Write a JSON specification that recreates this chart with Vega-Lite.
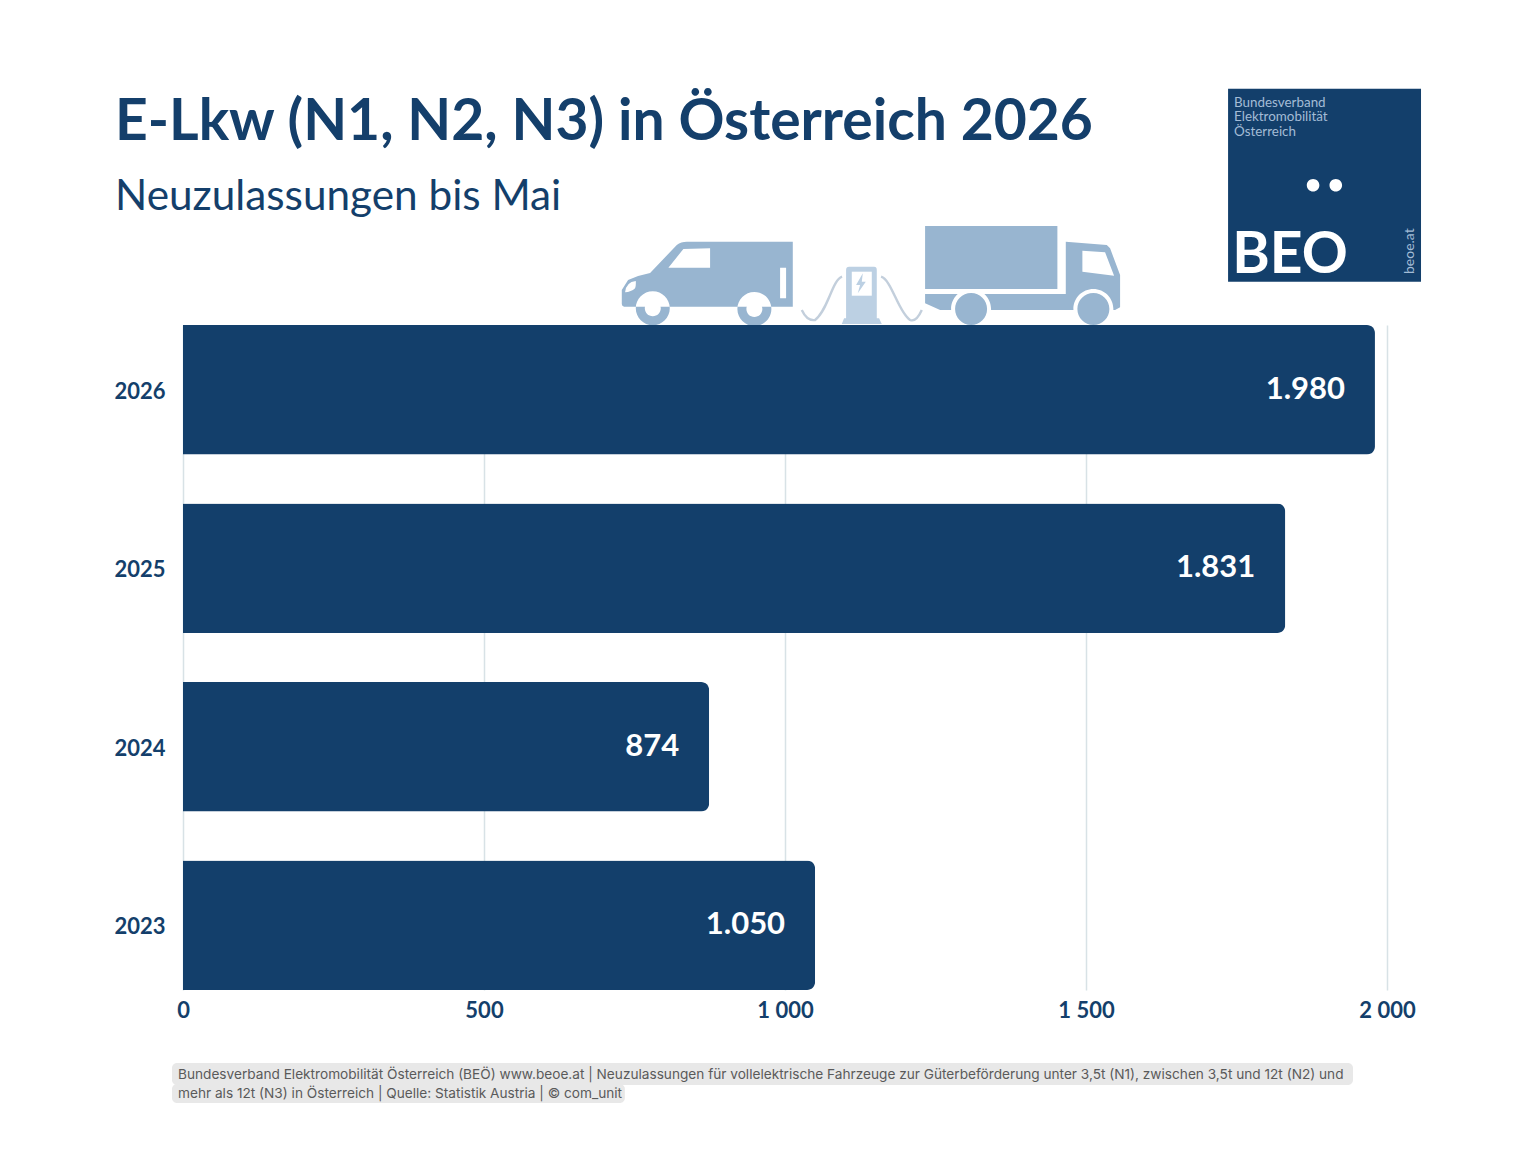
{
  "$schema": "https://vega.github.io/schema/vega-lite/v6.json",
  "width": 1204,
  "height": 665,
  "autosize": "none",
  "padding": {"left": 183, "top": 325, "right": 149, "bottom": 162},
  "background": "white",
  "data": {
    "values": [
      {"jahr": "2026", "neuzulassungen": 1980, "label": "1.980"},
      {"jahr": "2025", "neuzulassungen": 1831, "label": "1.831"},
      {"jahr": "2024", "neuzulassungen": 874, "label": "874"},
      {"jahr": "2023", "neuzulassungen": 1050, "label": "1.050"}
    ]
  },
  "title": {
    "text": "E-Lkw (N1, N2, N3) in Österreich 2026",
    "subtitle": "Neuzulassungen bis Mai",
    "anchor": "start",
    "frame": "group",
    "dx": -68,
    "offset": -131,
    "font": "Lato",
    "fontSize": 57,
    "fontWeight": "bold",
    "color": "#143f6b",
    "subtitleFont": "Lato",
    "subtitleFontSize": 42.3,
    "subtitleColor": "#143f6b",
    "subtitlePadding": 25
  },
  "layer": [
    {
      "layer": [
        {
          "data": {"values": [{"part": "logo"}]},
          "mark": {"type": "rect", "color": "#133f6b"},
          "encoding": {
            "x": {"datum": 1736, "type": "quantitative", "scale": {"domain": [0, 2000], "nice": false}},
            "x2": {"datum": 2056.5},
            "y": {"datum": -236.3, "type": "quantitative", "axis": null, "scale": {"domain": [0, 665], "nice": false, "zero": false, "reverse": true}},
            "y2": {"datum": -43.3}
          }
        },
        {
          "data": {"values": [{"text": "Bundesverband\nElektromobilität\nÖsterreich"}]},
          "mark": {"type": "text", "align": "left", "baseline": "alphabetic", "lineBreak": "\n", "lineHeight": 14.5, "font": "Lato", "fontSize": 13.4, "color": "#a3bcd6"},
          "encoding": {
            "x": {"datum": 1746, "type": "quantitative"},
            "y": {"datum": -218.3, "type": "quantitative", "axis": null, "scale": {"domain": [0, 665], "nice": false, "zero": false, "reverse": true}},
            "text": {"field": "text"}
          }
        },
        {
          "data": {"values": [{"text": "BEO"}]},
          "mark": {"type": "text", "align": "left", "baseline": "alphabetic", "font": "Lato", "fontSize": 57, "fontWeight": "bold", "color": "white"},
          "encoding": {
            "x": {"datum": 1743, "type": "quantitative"},
            "y": {"datum": -52.3, "type": "quantitative", "axis": null, "scale": {"domain": [0, 665], "nice": false, "zero": false, "reverse": true}},
            "text": {"field": "text"}
          }
        },
        {
          "data": {"values": [{"text": "beoe.at"}]},
          "mark": {"type": "text", "align": "left", "baseline": "alphabetic", "angle": 270, "font": "Lato", "fontSize": 14, "color": "#a3bcd6"},
          "encoding": {
            "x": {"datum": 2045, "type": "quantitative"},
            "y": {"datum": -51, "type": "quantitative", "axis": null, "scale": {"domain": [0, 665], "nice": false, "zero": false, "reverse": true}},
            "text": {"field": "text"}
          }
        },
        {
          "data": {"values": [{"part": "icons"}]},
          "encoding": {
            "x": {"datum": 1143, "type": "quantitative"},
            "y": {"datum": -42, "type": "quantitative", "axis": null, "scale": {"domain": [0, 665], "nice": false, "zero": false, "reverse": true}}
          },
          "layer": [
            {"mark": {"type": "point", "size": 4, "filled": true, "opacity": 1, "color": "#98b5d0", "shape": "M-184.3-41.3L-78.3-41.3L-78.3 23.7L-247 23.7Q-249.3 23-249.3 21L-249.3 7L-243-3Q-232-8-221-10L-194.3-38Q-190-41.3-184.3-41.3ZM-235.3 25.3a17 17 0 1 0 34 0a17 17 0 1 0-34 0ZM-133.7 26a17 17 0 1 0 34 0a17 17 0 1 0-34 0Z"}},
            {"mark": {"type": "point", "size": 4, "filled": true, "opacity": 1, "color": "white", "shape": "M-226.3 25.3a8 8 0 1 0 16 0a8 8 0 1 0-16 0ZM-124.7 26a8 8 0 1 0 16 0a8 8 0 1 0-16 0ZM-202.7-15.3L-187.7-34L-161-34.7L-161-15.3ZM-91-15.3L-85-15.3L-85 15.3L-91 15.3ZM-246 9.3Q-245-1-235.3-2Q-235 3-236 5.3Q-240 9-246 9.3Z"}},
            {"mark": {"type": "point", "size": 4, "filled": false, "opacity": 1, "strokeWidth": 2.4, "color": "#c3cfdc", "shape": "M-29-6.3C-39-3-43 27-56 37C-63 38-67 32-69.3 27M10-6.3C20.7-3 27 29 39 37C44 39 48 33 50.7 27"}},
            {"mark": {"type": "point", "size": 4, "filled": true, "opacity": 1, "color": "#bcd0e3", "shape": "M-25 35.3L-25-13Q-25-16.3-22-16.3L3-16.3Q5.7-16.3 5.7-13L5.7 35.3L8 35.3L10.7 41L-29.3 41L-27 35.3Z"}},
            {"mark": {"type": "point", "size": 4, "filled": true, "opacity": 1, "color": "white", "shape": "M-19.3-11.3L0.7-11.3L0.7 12.7L-19.3 12.7Z"}},
            {"mark": {"type": "point", "size": 4, "filled": true, "opacity": 1, "color": "#bcd0e3", "shape": "M-8.3-9.7L-15 2L-11 2L-13.3 10.3L-5.3-1.3L-9.3-1.3Z"}},
            {"mark": {"type": "point", "size": 4, "filled": true, "opacity": 1, "color": "#98b5d0", "shape": "M54-57L186.3-57L186.3 6L54 6ZM54 11L194.7 11L194.7-41.3L235.7-38L239-34.7L249-8L249 24.3L244 27L69 27L54 20.3Z"}},
            {"mark": {"type": "point", "size": 4, "filled": true, "opacity": 1, "color": "white", "shape": "M80 26a20 20 0 1 0 40 0a20 20 0 1 0-40 0ZM202.3 26a20 20 0 1 0 40 0a20 20 0 1 0-40 0ZM211.3-32.3L234-30.7L243-7.3L211.3-11.3Z"}},
            {"mark": {"type": "point", "size": 4, "filled": true, "opacity": 1, "color": "#98b5d0", "shape": "M84 26a16 16 0 1 0 32 0a16 16 0 1 0-32 0ZM206.3 26a16 16 0 1 0 32 0a16 16 0 1 0-32 0Z"}},
            {"mark": {"type": "point", "size": 4, "filled": true, "opacity": 1, "color": "white", "shape": "M435.7-97.7a6.3 6.3 0 1 0 12.6 0a6.3 6.3 0 1 0-12.6 0ZM458.4-97.7a6.3 6.3 0 1 0 12.6 0a6.3 6.3 0 1 0-12.6 0Z"}}
          ]
        },
        {
          "data": {"values": [{"part": "line1"}]},
          "mark": {"type": "rect", "color": "#e8e8e8", "cornerRadius": 5},
          "encoding": {
            "x": {"datum": -18.3, "type": "quantitative"},
            "x2": {"datum": 1943.5},
            "y": {"datum": 738, "type": "quantitative", "axis": null, "scale": {"domain": [0, 665], "nice": false, "zero": false, "reverse": true}},
            "y2": {"datum": 760}
          }
        },
        {
          "data": {"values": [{"part": "line2"}]},
          "mark": {"type": "rect", "color": "#e8e8e8", "cornerRadius": 5},
          "encoding": {
            "x": {"datum": -18.3, "type": "quantitative"},
            "x2": {"datum": 734},
            "y": {"datum": 759, "type": "quantitative", "axis": null, "scale": {"domain": [0, 665], "nice": false, "zero": false, "reverse": true}},
            "y2": {"datum": 778}
          }
        },
        {
          "data": {"values": [{"text": "Bundesverband Elektromobilität Österreich (BEÖ) www.beoe.at | Neuzulassungen für vollelektrische Fahrzeuge zur Güterbeförderung unter 3,5t (N1), zwischen 3,5t und 12t (N2) und\nmehr als 12t (N3) in Österreich | Quelle: Statistik Austria | © com_unit"}]},
          "mark": {"type": "text", "align": "left", "baseline": "alphabetic", "lineBreak": "\n", "lineHeight": 18.5, "font": "Inter", "fontSize": 13.65, "color": "#5a5a5a"},
          "encoding": {
            "x": {"datum": -8.3, "type": "quantitative"},
            "y": {"datum": 754, "type": "quantitative", "axis": null, "scale": {"domain": [0, 665], "nice": false, "zero": false, "reverse": true}},
            "text": {"field": "text"}
          }
        }
      ]
    },
    {
      "encoding": {
        "y": {
          "field": "jahr",
          "type": "nominal",
          "sort": ["2026", "2025", "2024", "2023"],
          "scale": {"paddingInner": 0.275, "paddingOuter": 0},
          "axis": {
            "title": null,
            "domain": false,
            "ticks": false,
            "grid": false,
            "labelFont": "Lato",
            "labelFontSize": 22,
            "labelFontWeight": "bold",
            "labelColor": "#143f6b",
            "labelPadding": 18,
            "labelOffset": 2
          }
        }
      },
      "layer": [
        {
          "mark": {"type": "bar", "color": "#133f6b", "cornerRadiusEnd": 8},
          "encoding": {
            "x": {
              "field": "neuzulassungen",
              "type": "quantitative",
              "scale": {"domain": [0, 2000], "nice": false},
              "axis": {
                "title": null,
                "values": [0, 500, 1000, 1500, 2000],
                "labelExpr": "replace(format(datum.value, ','), ',', ' ')",
                "domain": false,
                "ticks": false,
                "grid": true,
                "gridColor": "#d8e2e6",
                "gridWidth": 1.5,
                "labelFont": "Lato",
                "labelFontSize": 22,
                "labelFontWeight": "bold",
                "labelColor": "#143f6b",
                "labelPadding": 10,
                "labelFlush": false
              }
            }
          }
        },
        {
          "mark": {"type": "text", "align": "right", "baseline": "middle", "dx": -30, "dy": 0, "font": "Lato", "fontSize": 31, "fontWeight": "bold", "color": "white"},
          "encoding": {
            "x": {"field": "neuzulassungen", "type": "quantitative"},
            "text": {"field": "label"}
          }
        }
      ]
    }
  ],
  "resolve": {"scale": {"y": "independent"}},
  "config": {"view": {"stroke": null}}
}
